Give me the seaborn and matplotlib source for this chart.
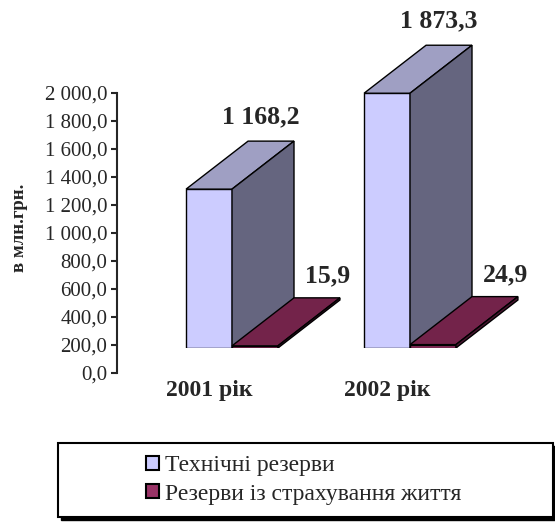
import numpy as np
import pandas as pd
import seaborn as sns
import matplotlib.pyplot as plt
from matplotlib.patches import Polygon, Patch, Rectangle

# Data
years = ['2001 рік', '2002 рік']
series = ['Технічні резерви', 'Резерви із страхування життя']
tech_reserves = [1168.2, 1873.3]
life_reserves = [15.9, 24.9]
axis_ticks = [0, 200, 400, 600, 800, 1000, 1200, 1400, 1600, 1800, 2000]

front_colors = ['#CCCCFF', '#993366']
top_colors = ['#9F9FC3', '#73234A']
side_colors = ['#65657F', '#4A1530']

df = pd.DataFrame({
    'year': years * 2,
    'series': [series[0]] * 2 + [series[1]] * 2,
    'value': tech_reserves + life_reserves,
})


def ua_fmt(v):
    return f'{v:,.1f}'.replace(',', ' ').replace('.', ',')


sns.set_style('white')
SERIF = ['Liberation Serif', 'DejaVu Serif']
plt.rcParams['font.family'] = SERIF

W, H = 555, 522
fig = plt.figure(figsize=(W / 100, H / 100), dpi=100)

# pixel geometry of the Excel-like 3D chart
px_per_unit = 0.136     # vertical px per value unit for the bars
px_per_cat = 178        # horizontal px per category
cat0_px = 232           # px of first category centre
floor_px = 348          # px of bar base line
depth_dx, depth_dy = 62, 48   # depth offset in px

ax_left_px = 117
ax = fig.add_axes([ax_left_px / W, 1 - floor_px / H, (W - ax_left_px) / W, floor_px / H])
ax.patch.set_alpha(0)

sns.barplot(data=df, x='year', y='value', hue='series', hue_order=series,
            palette=front_colors, width=0.516, edgecolor='black', linewidth=1.0,
            saturation=1, legend=False, ax=ax, zorder=2)

ax.set_xlim((ax_left_px - cat0_px) / px_per_cat, (W - cat0_px) / px_per_cat)
ax.set_ylim(0, floor_px / px_per_unit)
dx = depth_dx / px_per_cat
dy = depth_dy / px_per_unit

bars = ax.patches[:4]
label_off = [(-10, 24), (11, 22)]
first_centres = []
for i, bar in enumerate(bars):
    s = i // 2
    x0, w, h = bar.get_x(), bar.get_width(), bar.get_height()
    bar.set_zorder(2 + s)
    if s == 0:
        first_centres.append(x0 + w / 2)
    top = Polygon([(x0, h), (x0 + dx, h + dy), (x0 + w + dx, h + dy), (x0 + w, h)],
                  closed=True, facecolor=top_colors[s], edgecolor='black', lw=1.0, zorder=2 + s)
    side = Polygon([(x0 + w, 0), (x0 + w, h), (x0 + w + dx, h + dy), (x0 + w + dx, dy)],
                   closed=True, facecolor=side_colors[s], edgecolor='black', lw=1.0, zorder=2 + s)
    ax.add_patch(top)
    ax.add_patch(side)
    ax.annotate(ua_fmt(h), (x0 + w / 2 + dx, h + dy), xytext=label_off[s],
                textcoords='offset pixels', ha='center', va='center',
                fontsize=18.5, fontweight='bold', family=SERIF)

ax.set_xticks(first_centres, years)
ax.tick_params(axis='x', length=0, pad=23, labelsize=17)
for t in ax.get_xticklabels():
    t.set_fontweight('bold')
ax.set_yticks([])
ax.set_xlabel('')
ax.set_ylabel('')
for sp in ax.spines.values():
    sp.set_visible(False)

# value axis drawn separately (Excel front wall scale)
tax = fig.add_axes([ax_left_px / W, 1 - 373 / H, 0.01, 280 / H])
tax.patch.set_alpha(0)
tax.set_ylim(0, 2000)
tax.set_yticks(axis_ticks, [ua_fmt(v) for v in axis_ticks])
tax.set_xticks([])
tax.tick_params(axis='y', direction='out', length=4, width=1.5, pad=3, labelsize=15, left=True)
for name, sp in tax.spines.items():
    sp.set_visible(name == 'left')
tax.spines['left'].set_linewidth(1.5)

fig.text(20 / W, 1 - 228 / H, 'в млн.грн.', rotation=90, ha='center', va='center',
         fontsize=13.5, fontweight='bold', family=SERIF)

# legend box with black shadow
fig.patches.append(Rectangle((61 / W, 1 - 520 / H), 495 / W, 74 / H, transform=fig.transFigure,
                             facecolor='black', edgecolor='black', zorder=1))
fig.patches.append(Rectangle((58 / W, 1 - 517 / H), 495 / W, 74 / H, transform=fig.transFigure,
                             facecolor='white', edgecolor='black', lw=1.5, zorder=2))
handles = [Patch(facecolor=front_colors[k], edgecolor='black', lw=1.5) for k in range(2)]
fig.legend(handles, series, loc='center left', bbox_to_anchor=(146 / W, 1 - 480 / H),
           frameon=False, prop={'family': SERIF, 'size': 17},
           handlelength=0.55, handleheight=0.55,
           handletextpad=0.25, labelspacing=0.3, borderpad=0, borderaxespad=0)

fig.savefig('out.png', dpi=100)
